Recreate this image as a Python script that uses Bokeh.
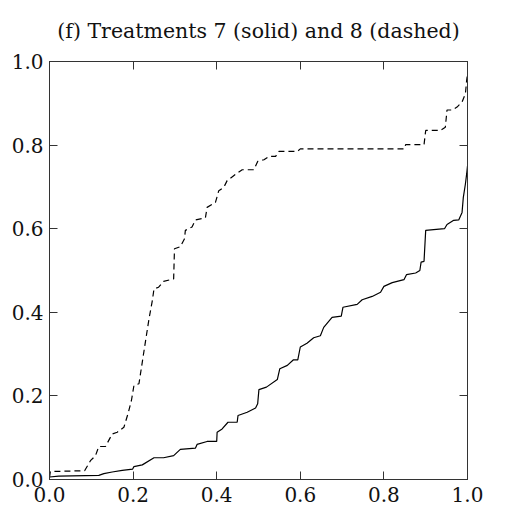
from bokeh.plotting import figure
from bokeh.models import Range1d, FixedTicker, LinearAxis
from bokeh.embed import file_html
from bokeh.resources import INLINE

# Treatment 7 (solid)
t7_x = [0.0, 0.022, 0.118, 0.130, 0.150, 0.174, 0.199, 0.202, 0.222, 0.250, 0.273,
        0.297, 0.313, 0.349, 0.353, 0.377, 0.400, 0.401, 0.413, 0.427, 0.449, 0.451,
        0.473, 0.493, 0.498, 0.501, 0.519, 0.545, 0.551, 0.569, 0.583, 0.594, 0.600,
        0.616, 0.632, 0.648, 0.656, 0.676, 0.698, 0.702, 0.736, 0.748, 0.772, 0.792,
        0.800, 0.820, 0.848, 0.854, 0.876, 0.886, 0.889, 0.896, 0.900, 0.919, 0.945,
        0.951, 0.967, 0.979, 0.987, 0.990, 0.995, 0.998, 1.0]
t7_y = [0.006, 0.008, 0.010, 0.014, 0.018, 0.022, 0.025, 0.031, 0.035, 0.052, 0.052,
        0.057, 0.072, 0.075, 0.084, 0.091, 0.091, 0.113, 0.121, 0.137, 0.137, 0.153,
        0.161, 0.171, 0.181, 0.215, 0.221, 0.239, 0.265, 0.273, 0.286, 0.286, 0.317,
        0.326, 0.339, 0.344, 0.364, 0.388, 0.391, 0.412, 0.419, 0.430, 0.438, 0.448,
        0.462, 0.471, 0.478, 0.490, 0.494, 0.500, 0.520, 0.522, 0.596, 0.598, 0.600,
        0.610, 0.620, 0.621, 0.639, 0.675, 0.707, 0.731, 0.75]

# Treatment 8 (dashed)
t8_x = [0.0, 0.002, 0.084, 0.098, 0.110, 0.118, 0.134, 0.150, 0.162, 0.178, 0.188,
        0.196, 0.202, 0.214, 0.222, 0.230, 0.238, 0.246, 0.250, 0.261, 0.273, 0.297,
        0.299, 0.313, 0.323, 0.325, 0.341, 0.349, 0.373, 0.377, 0.397, 0.405, 0.417,
        0.425, 0.445, 0.461, 0.489, 0.498, 0.513, 0.525, 0.541, 0.549, 0.593, 0.600,
        0.849, 0.852, 0.896, 0.900, 0.935, 0.947, 0.951, 0.963, 0.975, 0.987, 0.995,
        0.998, 1.0]
t8_y = [0.005, 0.019, 0.021, 0.045, 0.057, 0.079, 0.079, 0.109, 0.113, 0.125, 0.158,
        0.189, 0.225, 0.229, 0.281, 0.333, 0.384, 0.428, 0.456, 0.460, 0.474, 0.480,
        0.552, 0.557, 0.576, 0.596, 0.604, 0.621, 0.626, 0.651, 0.663, 0.691, 0.699,
        0.715, 0.730, 0.741, 0.741, 0.761, 0.765, 0.773, 0.773, 0.785, 0.785, 0.791,
        0.791, 0.801, 0.801, 0.835, 0.835, 0.843, 0.884, 0.884, 0.891, 0.903, 0.923,
        0.955, 0.97]

ticks = [0.0, 0.2, 0.4, 0.6, 0.8, 1.0]
tick_labels = ["0.0", "0.2", "0.4", "0.6", "0.8", "1.0"]
title_text = "(f) Treatments 7 (solid) and 8 (dashed)"

FONT = "DejaVu Serif"

p = figure(frame_width=418, frame_height=418, output_backend="svg",
           toolbar_location=None, x_range=Range1d(0, 1), y_range=Range1d(0, 1),
           min_border_left=49, min_border_top=61, min_border_right=22,
           min_border_bottom=28, x_axis_type=None, y_axis_type=None)
p.title.text = title_text
p.title.align = "center"
p.title.vertical_align = "top"
p.title.text_font = FONT
p.title.text_font_size = "20.5px"
p.title.text_font_style = "normal"
p.title.text_color = "#111111"
p.title.standoff = 34
p.grid.visible = False
p.outline_line_color = "#222222"
p.outline_line_width = 1
p.background_fill_color = "white"
p.border_fill_color = "white"

overrides = {t: l for t, l in zip(ticks, tick_labels)}

def make_axis(show_labels, standoff=6):
    ax = LinearAxis(ticker=FixedTicker(ticks=ticks))
    ax.major_label_overrides = overrides
    ax.major_tick_in = 8
    ax.major_tick_out = 0
    ax.minor_tick_line_color = None
    ax.axis_line_color = "#333333"
    ax.major_tick_line_color = "#333333"
    ax.major_label_text_font = FONT
    ax.major_label_text_color = "#111111"
    ax.major_label_standoff = standoff
    ax.major_label_text_font_size = "20px"
    if not show_labels:
        ax.major_label_text_font_size = "1px"
        ax.major_label_text_color = None
        ax.major_label_standoff = 0
    return ax

p.add_layout(make_axis(True, 7), "below")
p.add_layout(make_axis(True, 6), "left")
p.add_layout(make_axis(False), "above")
p.add_layout(make_axis(False), "right")

p.line(t7_x, t7_y, line_color="black", line_width=1.2)
p.line(t8_x, t8_y, line_color="black", line_width=1.2, line_dash="6 4")

open("out.html", "w").write(file_html(p, INLINE))
